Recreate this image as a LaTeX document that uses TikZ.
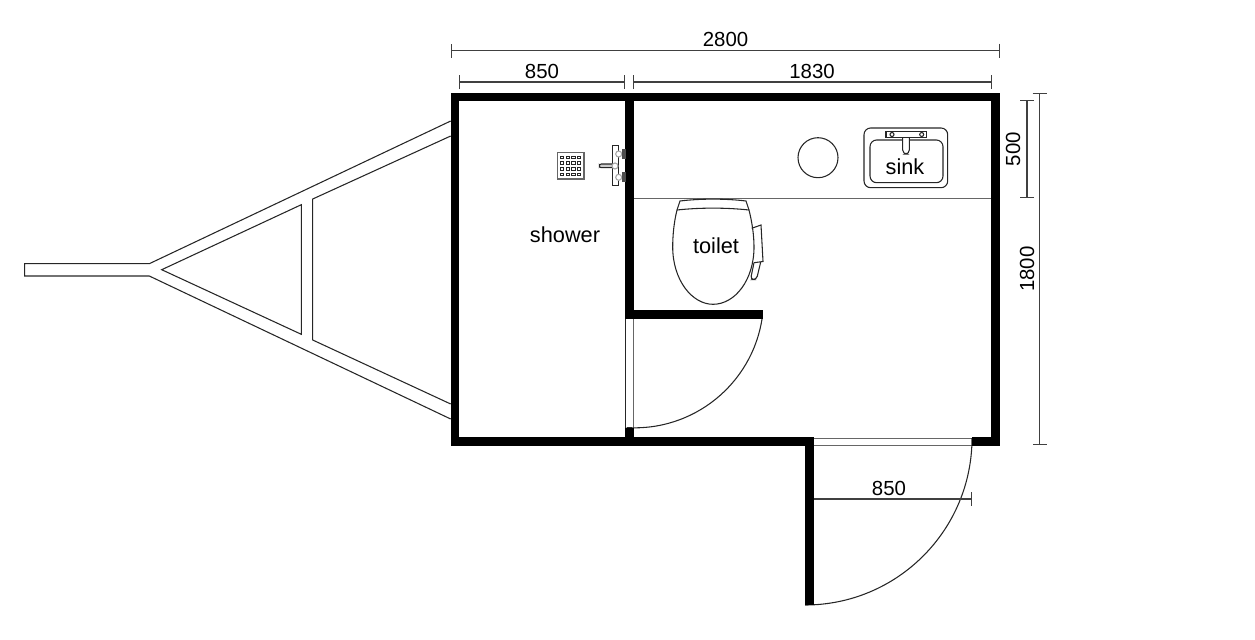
\documentclass[tikz,border=0pt]{standalone}
\usepackage{fontspec}
\setmainfont{Liberation Sans}
\usetikzlibrary{arrows.meta}
\tikzset{
    wall/.style={line width=6.6pt, line join=miter},
    thin line/.style={draw=black!85, line width=0.8pt},
    grey line/.style={draw=black!60, line width=0.95pt},
    dimension/.style={draw=black!75, line width=0.85pt, {Bar[width=10.5pt]}-{Bar[width=10.5pt]}},
    label/.style={inner sep=0pt, font=\fontsize{15.3}{18}\selectfont},
    room/.style={inner sep=0pt, font=\fontsize{16.3}{18}\selectfont}
}
\begin{document}
\begin{tikzpicture}[x=0.75pt, y=-0.75pt]
            \useasboundingbox (0,0) rectangle (1255,639);
            % trailer frame
            \draw[thin line] (450.7,121) -- (149.3,263.7) -- (24.7,263.7) -- (24.7,276) -- (149.3,276) -- (450.7,419);
            \draw[thin line] (450.7,136) -- (312.7,199) -- (312.7,340) -- (450.7,404);
            \draw[thin line] (161.7,269.7) -- (301.3,204.7) -- (301.3,334.3) -- cycle;
            % counter and doors
            \draw[grey line] (634,198.3) -- (992,198.3);
            \draw[thin line] (625.4,319) -- (625.4,428);
            \draw[grey line] (633.5,319) -- (633.5,428);
            \draw[grey line] (814,438.3) -- (972,438.3);
            \draw[grey line] (814,445.7) -- (972,445.7);
            \draw[thin line] (762,319) arc[start angle=9, end angle=93.5, radius=129];
            \draw[thin line] (972,438) arc[start angle=0, end angle=90, radius=167];
            % walls
            \draw[wall] (972,441.6) -- (995.6,441.6) -- (995.6,97) -- (455,97) -- (455,441.6) -- (809.5,441.6) -- (809.5,605);
            \draw[wall] (629.4,97) -- (629.4,319);
            \draw[wall] (625,314.5) -- (763,314.5);
            \draw[wall] (629.4,428) -- (629.4,438);
            % drain
            \draw[grey line, line width=1.2pt, fill=white] (557.3,152.3) rectangle (583.7,179);
            \foreach \col in {562,567.7,573.3,579} {
                \foreach \row in {157.3,163,168.7,174.3} {
                    \draw[black!85, line width=0.7pt] (\col-1.7,\row-1.3) rectangle (\col+1.7,\row+1.3);
                }
            }
            % shower tap
            \draw[thin line] (612.3,145.7) rectangle (618.7,185.7);
            \draw[thin line, fill=black!20, rounded corners=1.5] (599.3,164) rectangle (614,167.7);
            \draw[black!35, line width=0.8pt, fill=white] (615,166) circle (3);
            \draw[black!35, line width=0.8pt, fill=white] (618.7,154) circle (3);
            \draw[black!35, line width=0.8pt, fill=white] (618.7,177.3) circle (3);
            \fill[black!70] (621.7,149.3) rectangle (625.5,159.3);
            \fill[black!70] (621.7,172.3) rectangle (625.5,182.3);
            % bin and sink
            \draw[thin line] (818,157.7) circle (20);
            \draw[thin line, rounded corners=5] (864,128) rectangle (947.7,187.7);
            \draw[thin line, rounded corners=5] (902.7,140) -- (870,140) -- (870,182.7) -- (943,182.7) -- (943,140) -- (909.3,140);
            \draw[thin line, rounded corners=3] (902.7,137.3) -- (902.7,154) -- (909.3,154) -- (909.3,137.3);
            \draw[thin line] (886,131.7) rectangle (926.7,137.3);
            \draw[thin line, fill=white] (892,134.5) circle (2);
            \draw[thin line, fill=white] (921.7,134.5) circle (2);
            % toilet
            \draw[thin line] (677,210) -- (680,201) .. controls (700,198.5) and (726,198.5) .. (746,201) -- (749,210);
            \draw[thin line] (677,210) .. controls (700,207.5) and (726,207.5) .. (749,210);
            \draw[thin line] (677,210) .. controls (674,222) and (672.7,235) .. (672.7,247) .. controls (672.7,280) and (692,304.3) .. (713,304.3) .. controls (735,304.3) and (754,280) .. (754,247) .. controls (754,235) and (752,222) .. (749,210);
            \draw[thin line] (751.7,228.3) -- (761,225) -- (763,261.5) -- (754,262.7);
            \draw[thin line, rounded corners=2.5] (754,262.7) -- (750.5,279.5) -- (756.5,279.5) -- (760.7,262);
            % room labels
            \node[room] (shower) at (565,234.5) {shower};
            \node[room] (toilet) at (716,245.5) {toilet};
            \node[room] (sink) at (905,167) {sink};
            % dimensions
            \draw[dimension] (451,50.5) -- (1000,50.5);
            \draw[dimension] (458.7,82) -- (625,82);
            \draw[dimension] (633,82) -- (992,82);
            \draw[dimension] (1027,100) -- (1027,198.3);
            \draw[dimension] (1039.5,93) -- (1039.5,445);
            \draw[draw=black!75, line width=0.85pt, -{Bar[width=10.5pt]}] (814,499) -- (972,499);
            \node[label] (total) at (725.5,39.5) {2800};
            \node[label] (left) at (542,71) {850};
            \node[label] (right) at (812,71) {1830};
            \node[label, rotate=90] (upper) at (1013,149) {500};
            \node[label, rotate=90] (height) at (1027,269) {1800};
            \node[label] (door) at (889,488) {850};
        \end{tikzpicture}
\end{document}
